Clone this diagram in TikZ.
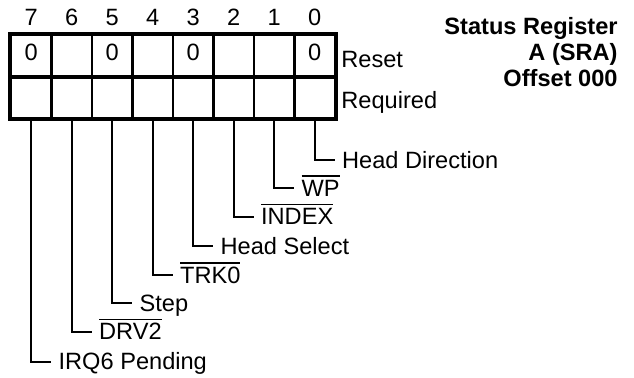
\documentclass[tikz,border=0pt]{standalone}
\usepackage{fontspec}
\setmainfont{Liberation Sans}
\usepackage{tikz}
\usetikzlibrary{positioning}
\newcommand{\regfont}{\fontsize{11.8}{13}\selectfont}
\newcommand{\negsig}[1]{\leavevmode\vbox{\hrule height 0.75pt\kern 1.6pt\hbox{#1}}}
\tikzset{
  cell/.style={rectangle,draw,line width=1.1pt,minimum width=20.25pt,minimum height=20.75pt,inner sep=0pt,text height=8.4pt,text depth=3.5pt,font=\regfont},
  bitno/.style={anchor=base,inner sep=0pt,font=\regfont},
  lbl/.style={anchor=west,inner xsep=3.5pt,inner ysep=0pt,text height=8.4pt,text depth=0pt,font=\regfont},
  side/.style={lbl,inner xsep=0pt},
  title/.style={anchor=north east,align=right,inner sep=0pt,font=\bfseries\regfont},
  lead/.style={line width=1pt},
}
\begin{document}
\begin{tikzpicture}[x=0.5pt,y=-0.5pt]
  \useasboundingbox (0,0) rectangle (634,377);
  % register cells, bit 7 on the left
  \foreach \b/\v in {7/0,6/{},5/0,4/{},3/0,2/{},1/{},0/0}{
    \node[bitno] (n\b) at ({314.75-40.5*\b},25){\b};
    \node[cell] (r\b) at ({314.75-40.5*\b},55.75){\v};
    \node[cell] (q\b) at ({314.75-40.5*\b},97.25){};
  }
  \draw[line width=1.5pt] (r7.north west) rectangle (q0.south east);
  \draw[line width=1.5pt] (r7.south west) -- (r0.south east);
  \node[side] (reset) at (341,59){Reset};
  \node[side] (req) at (341,100){Required};
  \node[title] (ttl) at (618,17){Status Register\\A (SRA)\\Offset 000};
  % bit names
  \node[lbl] (hdir) at (334.75,160){Head Direction};
  \node[lbl] (wp) at (294.25,188){\negsig{WP}};
  \node[lbl] (index) at (253.75,216.5){\negsig{INDEX}};
  \node[lbl] (hsel) at (213.25,246){Head Select};
  \node[lbl] (trk) at (172.75,275){\negsig{TRK0}};
  \node[lbl] (stp) at (132.25,303){Step};
  \node[lbl] (drv) at (91.75,331.5){\negsig{DRV2}};
  \node[lbl] (irq) at (51.25,361.5){IRQ6 Pending};
  \draw[lead] (q0.south) |- (hdir.west);
  \draw[lead] (q1.south) |- (wp.west);
  \draw[lead] (q2.south) |- (index.west);
  \draw[lead] (q3.south) |- (hsel.west);
  \draw[lead] (q4.south) |- (trk.west);
  \draw[lead] (q5.south) |- (stp.west);
  \draw[lead] (q6.south) |- (drv.west);
  \draw[lead] (q7.south) |- (irq.west);
\end{tikzpicture}
\end{document}
